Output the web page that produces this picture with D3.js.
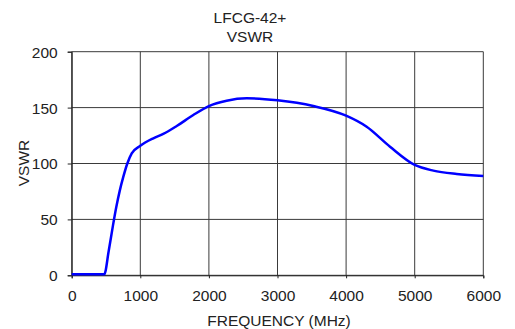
<!DOCTYPE html>
<html>
<head>
<meta charset="utf-8">
<script src="https://cdn.jsdelivr.net/npm/d3@7"></script>
<style>
  body { margin: 0; background: #fff; }
  svg text { font-family: "Liberation Sans", Arial, sans-serif; fill: #222; }
</style>
</head>
<body>
<div id="chart"></div>
<script>
// curve
const freqMHz = [0, 475, 540, 600, 650, 700, 752, 811, 875, 1000, 1190, 1335, 1531, 1773, 2000, 2259, 2551, 3000, 3522, 4000, 4300, 4640, 5000, 5271, 5612, 6000];
const vswr    = [1, 1, 22, 44, 61, 75.5, 88, 100, 109, 115.8, 122.5, 126.4, 133.5, 143.4, 151.4, 156.2, 158.3, 156.5, 151.4, 142.8, 132.9, 115, 98.7, 93.6, 90.6, 88.8];
const xTicks = [0, 1000, 2000, 3000, 4000, 5000, 6000];
const yTicks = [0, 50, 100, 150, 200];
const titleLines = ["LFCG-42+", "VSWR"];

const W = 515, H = 329;
const m = {left: 71.7, right: 483.3, top: 51.7, bottom: 275.3};

const svg = d3.select("#chart").append("svg")
    .attr("width", W)
    .attr("height", H);

const x = d3.scaleLinear().domain([0, 6000]).range([m.left, m.right]);
const y = d3.scaleLinear().domain([0, 200]).range([m.bottom, m.top]);

// grid
const grid = svg.append("g").attr("stroke", "#3a3a3a").attr("stroke-width", 1);
grid.selectAll(".gx").data(xTicks).enter().append("line")
    .attr("x1", d => x(d)).attr("x2", d => x(d))
    .attr("y1", m.top).attr("y2", m.bottom);
grid.selectAll(".gy").data(yTicks).enter().append("line")
    .attr("x1", m.left).attr("x2", m.right)
    .attr("y1", d => y(d)).attr("y2", d => y(d));

// axes
const xAxis = svg.append("g")
    .attr("transform", `translate(0,${m.bottom})`)
    .call(d3.axisBottom(x).tickValues(xTicks).tickSize(3).tickPadding(12).tickFormat(d3.format("d")));
const yAxis = svg.append("g")
    .attr("transform", `translate(${m.left},0)`)
    .call(d3.axisLeft(y).tickValues(yTicks).tickSize(4).tickPadding(10).tickFormat(d3.format("d")));
[xAxis, yAxis].forEach(a => {
    a.select(".domain").attr("stroke", "#222");
    a.selectAll(".tick line").attr("stroke", "#222");
    a.selectAll("text").style("font-size", "15.5px").attr("fill", "#222");
});
yAxis.selectAll("text").attr("dy", "0.35em");

// curve
const line = d3.line()
    .x((d, i) => x(freqMHz[i]))
    .y(d => y(d))
    .curve(d3.curveMonotoneX);
svg.append("path")
    .datum(vswr)
    .attr("fill", "none")
    .attr("stroke", "#0000ff")
    .attr("stroke-width", 2.5)
    .attr("d", line);

// titles
svg.append("g").selectAll("text").data(titleLines).enter().append("text")
    .attr("x", 250)
    .attr("y", (d, i) => 23 + i * 18.5)
    .attr("text-anchor", "middle")
    .style("font-size", "15.5px")
    .text(d => d);

svg.append("text")
    .attr("x", 279)
    .attr("y", 326)
    .attr("text-anchor", "middle")
    .style("font-size", "15.5px")
    .text("FREQUENCY (MHz)");

svg.append("text")
    .attr("transform", "translate(24,163) rotate(-90)")
    .attr("text-anchor", "middle")
    .attr("dy", "0.35em")
    .style("font-size", "15.5px")
    .text("VSWR");
</script>
</body>
</html>
